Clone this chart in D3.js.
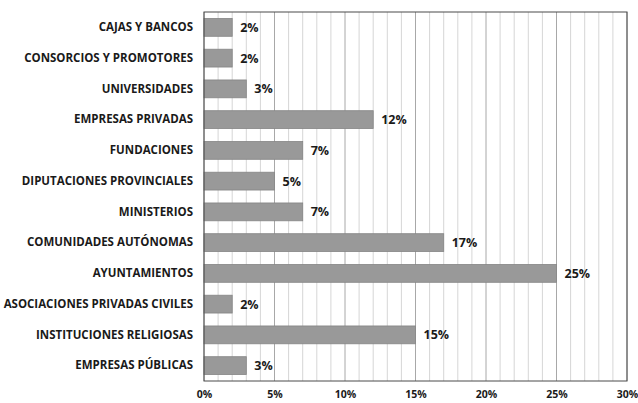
<!DOCTYPE html>
<html>
<head>
<meta charset="utf-8">
<script src="https://cdn.jsdelivr.net/npm/d3@7"></script>
<style>
  html, body { margin: 0; padding: 0; background: #fff; }
  svg { display: block; }
  text { font-family: "Open Sans", "Lato", sans-serif; font-weight: bold; fill: #1a1a1a; }
</style>
</head>
<body>
<svg id="chart" width="638" height="403"></svg>
<script>
// Funding sources, top to bottom
const categories = [
  "CAJAS Y BANCOS",
  "CONSORCIOS Y PROMOTORES",
  "UNIVERSIDADES",
  "EMPRESAS PRIVADAS",
  "FUNDACIONES",
  "DIPUTACIONES PROVINCIALES",
  "MINISTERIOS",
  "COMUNIDADES AUTÓNOMAS",
  "AYUNTAMIENTOS",
  "ASOCIACIONES PRIVADAS CIVILES",
  "INSTITUCIONES RELIGIOSAS",
  "EMPRESAS PÚBLICAS"
];
const values = [2, 2, 3, 12, 7, 5, 7, 17, 25, 2, 15, 3];
const xTicks = [0, 5, 10, 15, 20, 25, 30];
const minorTicks = d3.range(0, 31, 1);

const svg = d3.select("#chart");
const margin = { top: 12, right: 11, bottom: 22, left: 204 };
const width = 638 - margin.left - margin.right;
const height = 403 - margin.top - margin.bottom;

const g = svg.append("g").attr("transform", `translate(${margin.left},${margin.top})`);

const x = d3.scaleLinear().domain([0, 30]).range([0, width]);
const y = d3.scaleBand().domain(categories).range([0, height]).paddingInner(0.42).paddingOuter(0.21);

// minor gridlines every 1%
g.append("g").selectAll("line").data(minorTicks.filter(d => d % 5 !== 0)).join("line")
  .attr("x1", d => x(d)).attr("x2", d => x(d))
  .attr("y1", 0).attr("y2", height)
  .attr("stroke", "#d6d6d6").attr("stroke-width", 1);

// major gridlines every 5%
g.append("g").selectAll("line").data(xTicks).join("line")
  .attr("x1", d => x(d)).attr("x2", d => x(d))
  .attr("y1", 0).attr("y2", height)
  .attr("stroke", "#a8a8a8").attr("stroke-width", 1);

// bars
g.append("g").selectAll("rect").data(values).join("rect")
  .attr("x", x(0))
  .attr("y", (d, i) => y(categories[i]))
  .attr("width", d => x(d) - x(0))
  .attr("height", y.bandwidth())
  .attr("fill", "#999999")
  .attr("stroke", "#858585")
  .attr("stroke-width", 0.8);

// value labels
g.append("g").selectAll("text").data(values).join("text")
  .attr("x", d => x(d) + 8)
  .attr("y", (d, i) => y(categories[i]) + y.bandwidth() / 2)
  .attr("dy", "0.36em")
  .attr("font-size", 12.5)
  .text(d => d + "%");

// plot frame
g.append("rect")
  .attr("x", 0).attr("y", 0).attr("width", width).attr("height", height)
  .attr("fill", "none").attr("stroke", "#4a4a4a").attr("stroke-width", 1);

// category axis labels
const yAxis = d3.axisLeft(y).tickSize(0).tickPadding(11);
const ya = g.append("g").call(yAxis);
ya.select(".domain").remove();
ya.selectAll("text").attr("font-size", 11.5);

// percentage axis labels
const xAxis = d3.axisBottom(x).tickValues(xTicks).tickSize(0).tickPadding(10).tickFormat(d => d + "%");
const xa = g.append("g").attr("transform", `translate(0,${height})`).call(xAxis);
xa.select(".domain").remove();
xa.selectAll("text").attr("font-size", 10.5);
svg.selectAll(".tick text").attr("fill", "#1a1a1a");
svg.selectAll("g").attr("font-family", null);
</script>
</body>
</html>
